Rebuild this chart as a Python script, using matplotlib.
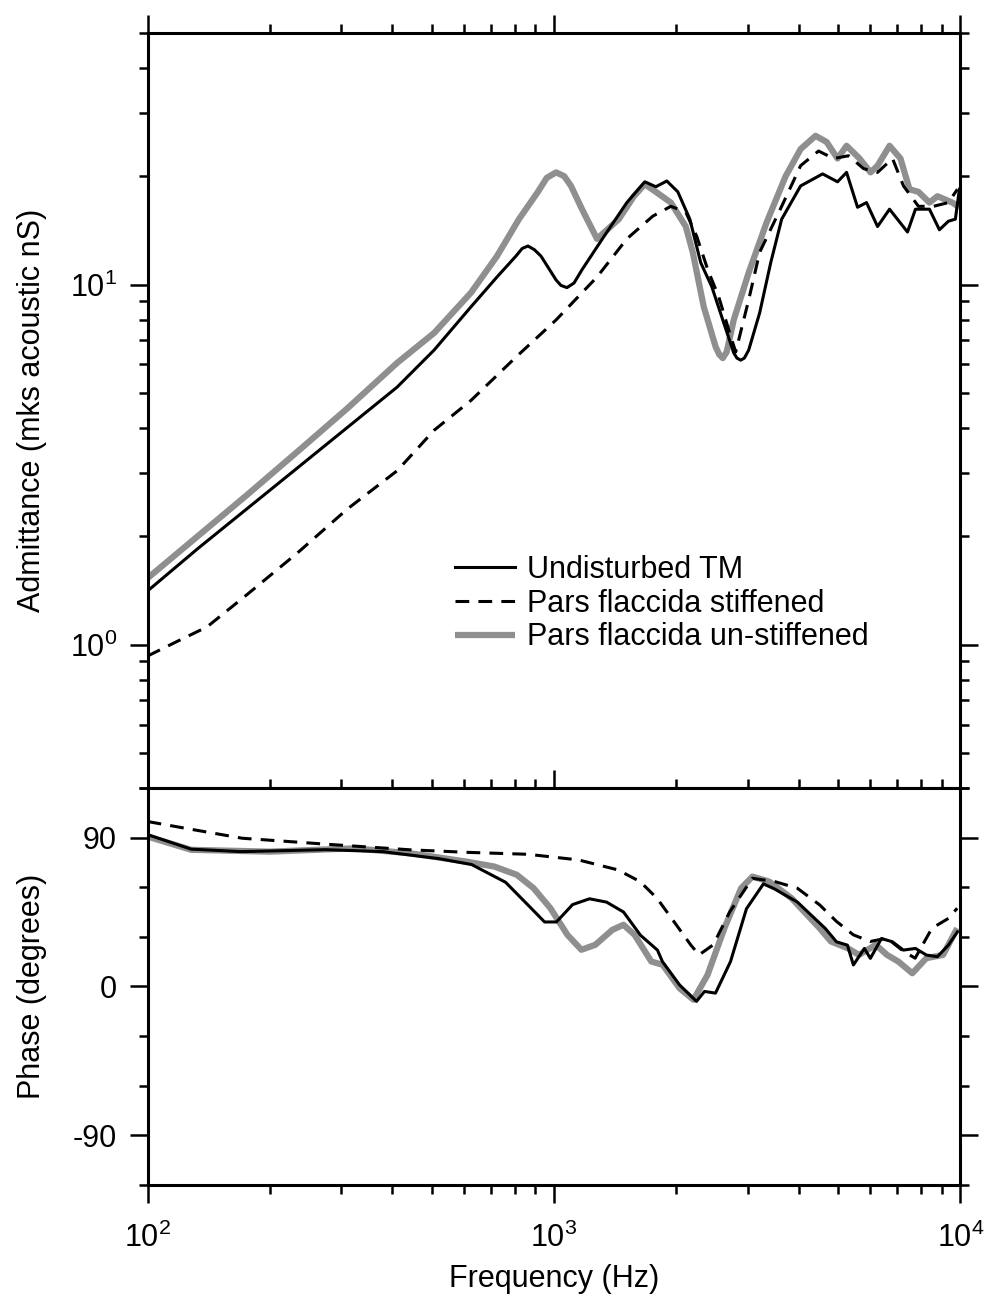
import matplotlib
matplotlib.use("Agg")
import matplotlib.pyplot as plt
from matplotlib.ticker import LogLocator, NullFormatter, FixedLocator, FixedFormatter

plt.rcParams['font.family'] = ['Liberation Sans', 'DejaVu Sans']
plt.rcParams['mathtext.default'] = 'regular'
plt.rcParams['axes.unicode_minus'] = False

# ---- admittance magnitude (mks acoustic nS) ----
freq_mag_undisturbed = [100, 133, 176, 234, 310, 411, 507, 625, 724, 806, 835, 863, 895, 929, 1012,
                        1040, 1076, 1120, 1172, 1327, 1511, 1673, 1781, 1895, 2017, 2159, 2297,
                        2445, 2602, 2769, 2820, 2880, 2940, 3014, 3207, 3414, 3633, 4045, 4581,
                        4986, 5247, 5584, 5875, 6254, 6694, 7411, 7753, 8392, 8880, 9344, 9720,
                        9943]
mag_undisturbed = [1.41, 1.85, 2.39, 3.10, 4.01, 5.19, 6.58, 8.68, 10.5, 12.0, 12.6, 12.8, 12.5, 12.0,
                   10.3, 9.95, 9.81, 10.1, 11.0, 13.6, 16.9, 19.3, 18.7, 19.4, 18.1, 15.2, 11.5,
                   9.87, 7.98, 6.46, 6.25, 6.17, 6.25, 6.58, 8.35, 11.5, 15.2, 18.8, 20.3,
                   19.3, 20.5, 16.4, 16.9, 14.5, 16.2, 14.0, 16.2, 16.2, 14.2, 15.0, 15.2,
                   18.4]

freq_mag_stiff = [100, 118, 140, 176, 234, 310, 411, 507, 625, 806, 1012, 1276, 1511, 1751, 1939,
                  2110, 2246, 2390, 2543, 2706, 2800, 3014, 3207, 3633, 4045, 4477, 4875, 5306,
                  5777, 6254, 6808, 7244, 7885, 8584, 9344, 9831]
mag_stiff = [0.93, 1.02, 1.12, 1.38, 1.80, 2.38, 3.04, 3.94, 4.77, 6.29, 7.98, 10.5, 13.4, 15.5, 16.5,
             15.9, 13.6, 11.0, 9.25, 7.34, 6.5, 9.08, 12.3, 16.5, 21.4, 23.5, 22.4, 22.8,
             21.0, 20.5, 22.4, 18.8, 16.5, 16.5, 16.9, 18.4]

freq_mag_unstiff = [100, 176, 234, 310, 411, 507, 625, 724, 820, 913, 960, 1012, 1060, 1101, 1172,
                    1276, 1444, 1573, 1673, 1781, 1939, 2110, 2195, 2336, 2500, 2550, 2602, 2660,
                    2769, 3014, 3337, 3715, 4045, 4402, 4686, 4986, 5247, 5648, 6010, 6254, 6694,
                    7122, 7495, 7885, 8392, 8781, 9557, 9943]
mag_unstiff = [1.53, 2.61, 3.44, 4.53, 6.06, 7.34, 9.5, 12.0, 15.2, 18.1, 19.8, 20.5, 20.0, 18.8, 16.2,
               13.4, 15.2, 17.6, 19.0, 18.1, 16.9, 14.5, 12.3, 8.68, 6.71, 6.4, 6.25, 6.5,
               7.98, 10.8, 14.9, 20.0, 23.8, 25.9, 24.9, 22.4, 24.3, 22.4, 20.5, 21.4, 24.3,
               22.4, 18.4, 18.1, 16.9, 17.6, 16.9, 16.4]

# ---- admittance phase (degrees) ----
freq_ph_undisturbed = [100, 128, 170, 274, 379, 520, 627, 760, 861, 948, 1014, 1111, 1223, 1347, 1483,
                       1632, 1797, 1849, 2036, 2242, 2346, 2497, 2718, 2976, 3276, 3486, 3972, 4655,
                       4955, 5272, 5455, 5804, 6005, 6394, 6805, 7241, 7752, 8249, 8779, 9344, 9831]
ph_undisturbed = [91.8, 83, 81.5, 82.7, 81.5, 77.3, 73.7, 63, 49.5, 39, 39, 49.5, 53, 51, 45,
                  31, 22, 15, 1, -9, -3, -4, 15, 47, 62, 59, 51, 35,
                  27, 25, 13, 23, 17, 29, 27, 22, 23, 19, 18, 25, 33]

freq_ph_stiff = [100, 124, 171, 275, 443, 608, 863, 1149, 1435, 1629, 1793, 1972, 2169, 2275, 2465,
                 2710, 3078, 3494, 3970, 4506, 4957, 5455, 6000, 6598, 7261, 7738, 8511, 9366, 9820]
ph_stiff = [99.7, 95.6, 89.6, 86.0, 82.6, 81.1, 79.9, 76.5, 70.5, 63.4, 53.3, 39.3, 25.2, 19.1, 25.2,
            45.3, 65.4, 63.4, 59.4, 49.3, 39.3, 31.2, 27.2, 29.2, 21.1, 17.1, 35.2, 41.3, 47.3]

freq_ph_unstiff = [100, 128, 200, 322, 443, 608, 713, 810, 891, 980, 1079, 1168, 1264, 1391, 1482,
                   1579, 1736, 1851, 2036, 2204, 2387, 2626, 2887, 3078, 3386, 3844, 4506, 4803,
                   5284, 5629, 6193, 6598, 7034, 7616, 8245, 9066, 9820]
ph_unstiff = [90.6, 82.6, 81.5, 83.5, 80.5, 75.5, 72.5, 67.5, 59.4, 47.3, 31.2, 22.2, 25.2, 34.2, 37.3,
              31.2, 15.1, 13.1, -1.0, -8.0, 7.0, 35.2, 59.4, 66.4, 63.4, 53.3, 35.2, 27.2,
              23.1, 19.1, 25.2, 19.1, 15.1, 8.0, 17.1, 19.1, 35.2]

labels = ['Undisturbed TM', 'Pars flaccida stiffened', 'Pars flaccida un-stiffened']

FS = 22
fig = plt.figure(figsize=(9.84, 13.08), dpi=100)
ax1 = fig.add_axes([0.150, 0.3976, 0.826, 0.5772])
ax2 = fig.add_axes([0.150, 0.0940, 0.826, 0.3036])

gray_kw = dict(color='#8f8f8f', lw=4.5, solid_capstyle='butt', solid_joinstyle='round')
black_kw = dict(color='black', lw=2.2, solid_joinstyle='round')
dash_kw = dict(color='black', lw=2.2, dashes=(4.5, 3.0))

h_un = ax1.plot(freq_mag_unstiff, mag_unstiff, **gray_kw, zorder=2)[0]
h_st = ax1.plot(freq_mag_stiff, mag_stiff, **dash_kw, zorder=3)[0]
h_ud = ax1.plot(freq_mag_undisturbed, mag_undisturbed, **black_kw, zorder=4)[0]

ax2.plot(freq_ph_unstiff, ph_unstiff, **gray_kw, zorder=2)
ax2.plot(freq_ph_stiff, ph_stiff, **dash_kw, zorder=3)
ax2.plot(freq_ph_undisturbed, ph_undisturbed, **black_kw, zorder=4)

for ax in (ax1, ax2):
    ax.set_xscale('log')
    ax.set_xlim(100, 10000)
    ax.xaxis.set_major_locator(LogLocator(base=10))
    ax.xaxis.set_minor_locator(LogLocator(base=10, subs=range(2, 10)))
    ax.xaxis.set_minor_formatter(NullFormatter())
    ax.tick_params(which='both', direction='out', top=True, right=True,
                   labelsize=FS, width=1.8)
    ax.tick_params(which='major', length=13, pad=9)
    ax.tick_params(which='minor', length=6.5)
    for sp in ax.spines.values():
        sp.set_linewidth(2.2)

ax1.set_yscale('log')
ax1.set_ylim(0.4, 50)
ax1.yaxis.set_major_locator(LogLocator(base=10))
ax1.yaxis.set_minor_locator(LogLocator(base=10, subs=range(2, 10)))
ax1.yaxis.set_minor_formatter(NullFormatter())
ax1.tick_params(axis='x', labelbottom=False)
ax1.set_ylabel('Admittance (mks acoustic nS)', fontsize=FS)
ax1.yaxis.set_label_coords(-0.124, 0.5)

ax2.set_ylim(-120, 120)
ax2.yaxis.set_major_locator(FixedLocator([-90, 0, 90]))
ax2.yaxis.set_major_formatter(FixedFormatter(['-90', '0', '90']))
ax2.yaxis.set_minor_locator(FixedLocator([-120, -60, -30, 30, 60, 120]))
ax2.tick_params(axis='x', which='major', pad=14)
ax2.set_ylabel('Phase (degrees)', fontsize=FS)
ax2.yaxis.set_label_coords(-0.124, 0.5)
ax2.set_xlabel('Frequency (Hz)', fontsize=FS)
ax2.xaxis.set_label_coords(0.5, -0.2)

ax1.legend([h_ud, h_st, h_un], labels, loc='upper left', bbox_to_anchor=(0.4624, 0.5757),
           bbox_transform=fig.transFigure, frameon=False, fontsize=FS,
           borderpad=0, borderaxespad=0, handlelength=1.95, handletextpad=0.4,
           labelspacing=0.12)

fig.savefig('out.png', dpi=100)
